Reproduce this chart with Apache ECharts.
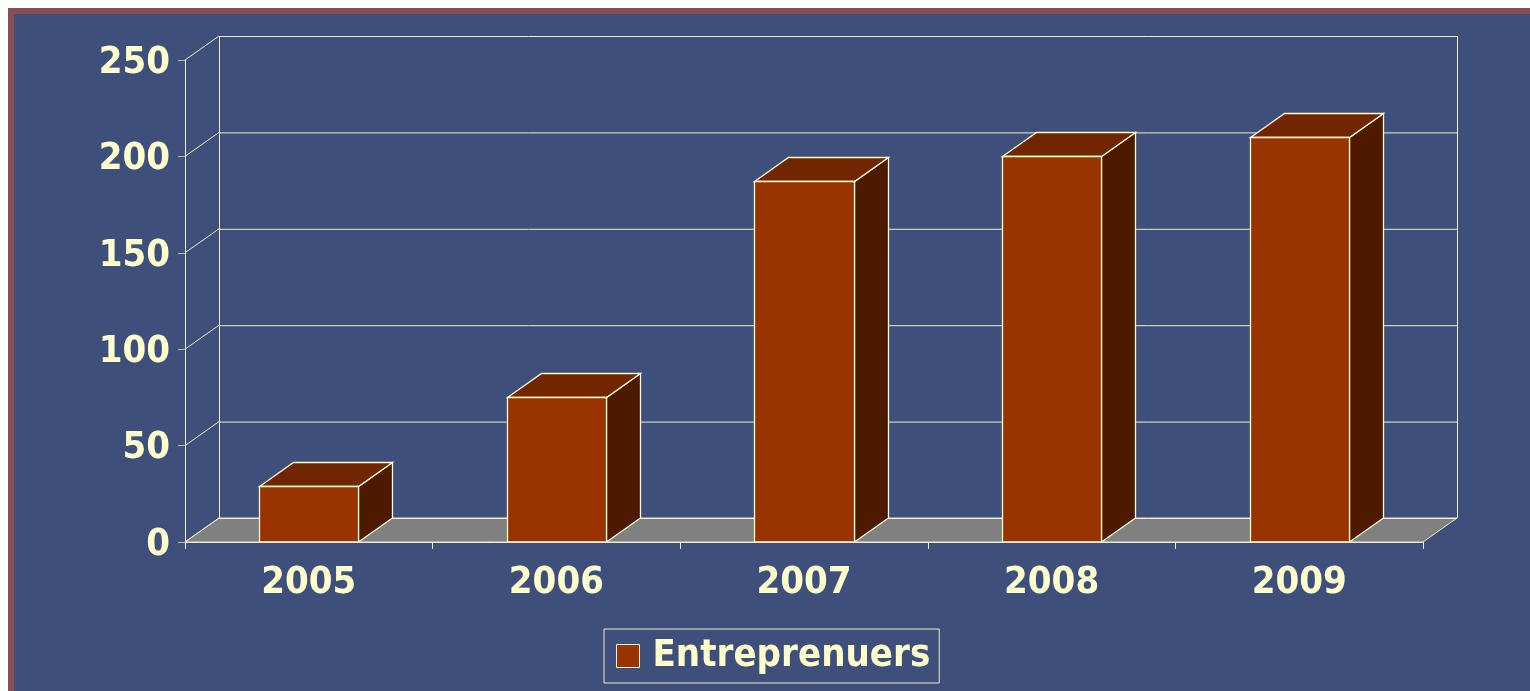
<!DOCTYPE html>
<html>
<head>
<meta charset="utf-8">
<script src="https://cdn.jsdelivr.net/npm/echarts@6/dist/echarts.min.js"></script>
<style>
html,body{margin:0;padding:0;background:#fff;}
#c{width:1530px;height:691px;}
</style>
</head>
<body>
<div id="c"></div>
<script>
// ---- data ----
const categories = ['2005', '2006', '2007', '2008', '2009'];
const seriesName = 'Entreprenuers';
const values = [29, 75, 187, 200, 210];
const yTicks = [0, 50, 100, 150, 200, 250];

// ---- style ----
const FONT = "'DejaVu Sans Condensed', 'DejaVu Sans', sans-serif";
const TXT = '#FFFFCC';
const LINE = '#EDEDC8';
const DX = 34, DY = 24;
const BG = '#3E4F7B';

const chart = echarts.init(document.getElementById('c'), null, {renderer: 'canvas'});

function wallItem(params, api) {
  const band = api.size([1, 0])[0];
  const x0 = api.coord([0, 0])[0] - band / 2;
  const x1 = api.coord([categories.length - 1, 0])[0] + band / 2;
  const v = api.value(0);
  const y = api.coord([0, v])[1];
  const children = [];
  const ls = {stroke: LINE, lineWidth: 1, fill: null};
  if (params.dataIndex === 0) {
    const yTop = api.coord([0, yTicks[yTicks.length - 1]])[1];
    children.push({type: 'polygon', shape: {points: [[x0, y], [x1, y], [x1 + DX, y - DY], [x0 + DX, y - DY]]},
      style: {fill: '#808080', stroke: LINE, lineWidth: 1}});
    children.push({type: 'line', shape: {x1: x0 + DX + 0.5, y1: yTop - DY, x2: x0 + DX + 0.5, y2: y - DY}, style: ls});
    children.push({type: 'line', shape: {x1: x1 + DX + 0.5, y1: yTop - DY, x2: x1 + DX + 0.5, y2: y - DY}, style: ls});
  }
  children.push({type: 'line', shape: {x1: x0 + DX, y1: y - DY + 0.5, x2: x1 + DX, y2: y - DY + 0.5}, style: ls});
  children.push({type: 'line', shape: {x1: x0, y1: y, x2: x0 + DX, y2: y - DY}, style: ls});
  return {type: 'group', children: children};
}

function barItem(params, api) {
  const band = api.size([1, 0])[0];
  const c = api.coord([api.value(0), api.value(1)]);
  const base = api.coord([api.value(0), 0]);
  const w = band * 0.4;
  const xl = Math.round(c[0] - w / 2) + 0.5, xr = Math.round(c[0] + w / 2) + 0.5;
  const yt = Math.round(c[1]) + 0.5, yb = base[1];
  const st = {stroke: TXT, lineWidth: 1.3, lineJoin: 'miter'};
  return {type: 'group', children: [
    {type: 'polygon', shape: {points: [[xr, yt], [xr + DX, yt - DY], [xr + DX, yb - DY], [xr, yb]]},
      style: Object.assign({fill: '#4D1A00'}, st)},
    {type: 'polygon', shape: {points: [[xl, yt], [xr, yt], [xr + DX, yt - DY], [xl + DX, yt - DY]]},
      style: Object.assign({fill: '#722600'}, st)},
    {type: 'rect', shape: {x: xl, y: yt, width: xr - xl, height: yb - yt},
      style: Object.assign({fill: '#993300'}, st)}
  ]};
}

chart.setOption({
  backgroundColor: '#ffffff',
  animation: false,
  graphic: [
    {type: 'rect', z: -10, shape: {x: 8, y: 8, width: 1522, height: 683}, style: {fill: '#8B4D55'}},
    {type: 'rect', z: -9, shape: {x: 14, y: 14, width: 1516, height: 677}, style: {fill: BG}}
  ],
  grid: {left: 185, right: 107, top: 60, bottom: 149, containLabel: false},
  legend: {
    data: [seriesName],
    left: 604, top: 629,
    padding: [8, 9, 8, 12],
    borderColor: LINE, borderWidth: 1,
    itemWidth: 23, itemHeight: 23,
    icon: 'rect',
    itemStyle: {color: '#993300', borderColor: TXT, borderWidth: 1},
    textStyle: {color: TXT, fontSize: 38, fontWeight: 'bold', fontFamily: FONT, padding: [2, 0, 0, 8]},
    selectedMode: false
  },
  xAxis: {
    type: 'category', data: categories,
    boundaryGap: true,
    axisLine: {show: true, lineStyle: {color: LINE, width: 1}},
    axisTick: {show: true, length: 7, lineStyle: {color: LINE}},
    axisLabel: {color: TXT, fontSize: 38, fontWeight: 'bold', fontFamily: FONT, margin: 22},
    splitLine: {show: false}, z: 10
  },
  yAxis: {
    type: 'value', min: 0, max: 250, interval: 50,
    axisLine: {show: true, lineStyle: {color: LINE, width: 1}},
    axisTick: {show: true, length: 7, lineStyle: {color: '#B8B8A8'}},
    axisLabel: {
      margin: 15,
      formatter: '{a|{value}}',
      rich: {a: {color: TXT, fontSize: 38, fontWeight: 'bold', fontFamily: FONT, padding: [6, 0, 0, 0]}}
    },
    splitLine: {show: false}, z: 10
  },
  series: [
    {type: 'custom', silent: true, renderItem: wallItem, data: yTicks.map(v => [v]), z: 1},
    {type: 'custom', name: seriesName, silent: true, renderItem: barItem,
      itemStyle: {color: '#993300'},
      data: values.map((v, i) => [i, v]), z: 5}
  ]
});
</script>
</body>
</html>
